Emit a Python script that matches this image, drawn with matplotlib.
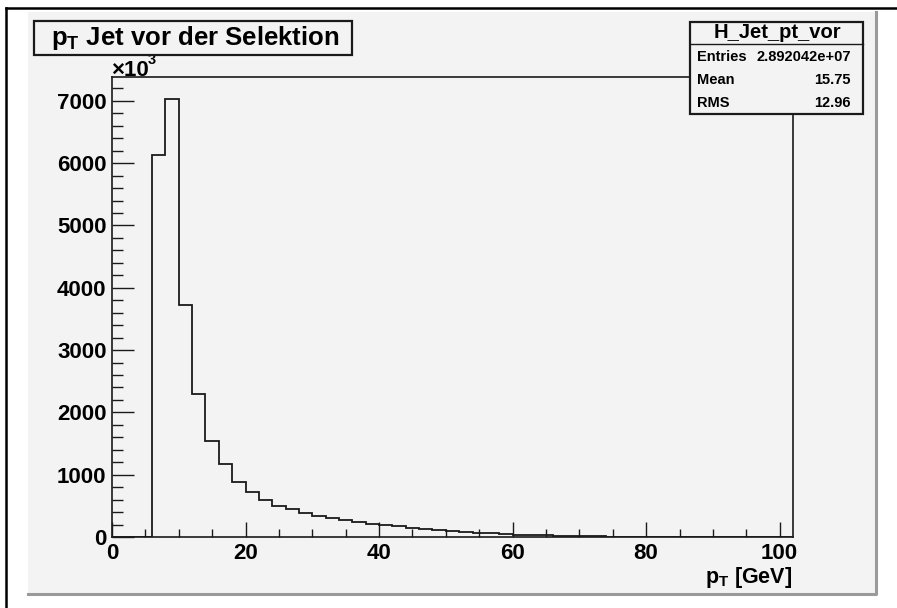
import numpy as np
import matplotlib
matplotlib.use("Agg")
import matplotlib.pyplot as plt
from matplotlib.patches import Rectangle
from matplotlib.lines import Line2D
from matplotlib.ticker import MultipleLocator, FixedLocator

plt.rcParams['font.family'] = ['Liberation Sans', 'DejaVu Sans']
plt.rcParams['font.weight'] = 'bold'
plt.rcParams['mathtext.fontset'] = 'custom'
plt.rcParams['mathtext.rm'] = 'Liberation Sans:bold'
plt.rcParams['mathtext.bf'] = 'Liberation Sans:bold'
plt.rcParams['mathtext.it'] = 'Liberation Sans:bold'

# jet pT histogram, 2 GeV bins from 0 to 102, contents in units of 10^3
bin_edges = np.arange(0, 104, 2)
counts_k = [0, 0, 0, 6133, 7032, 3725, 2291, 1541, 1167, 888,
            717, 594, 503, 445, 385, 342, 300, 268, 241, 214,
            188, 171, 150, 133, 117, 101, 85, 72, 59, 48,
            40, 32, 26, 20, 16, 12, 10, 8, 7, 6,
            5, 4, 4, 0, 0, 0, 0, 0, 0, 0, 0]

hist_name = "H_Jet_pt_vor"
stat_names = ["Entries", "Mean", "RMS"]
stat_values = ["2.892042e+07", "15.75", "12.96"]

W, H = 897, 608
BG = '#f3f3f3'
INK = '#1a1a1a'
LABEL_SIZE = 16


def fx(x):
    return x / W


def fy(y):
    return 1 - y / H


fig = plt.figure(figsize=(W / 100, H / 100), dpi=100, facecolor='white')

# canvas with a bevelled edge
fig.add_artist(Rectangle((fx(28), fy(595)), fx(877) - fx(28), fy(12) - fy(595),
                         transform=fig.transFigure, fc=BG, ec='none', zorder=0))
fig.add_artist(Line2D([fx(28), fx(876), fx(876)], [fy(594), fy(594), fy(12)],
                      transform=fig.transFigure, color='#9a9a9a', lw=2.2, zorder=1))
fig.add_artist(Line2D([fx(6), fx(6)], [0, fy(8)], transform=fig.transFigure,
                      color='black', lw=1.8))
fig.add_artist(Line2D([fx(6), 1], [fy(8), fy(8)], transform=fig.transFigure,
                      color='black', lw=1.8))

ax = fig.add_axes([fx(112), fy(537), fx(793) - fx(112), fy(77) - fy(537)])
ax.set_facecolor(BG)
ax.stairs(counts_k, bin_edges, color=INK, lw=1.3)
ax.set_xlim(0, 102)
ax.set_ylim(0, max(counts_k) * 1.05)

for s in ax.spines.values():
    s.set_color(INK)
    s.set_linewidth(1.2)

ax.xaxis.set_major_locator(FixedLocator([0, 20, 40, 60, 80, 100]))
ax.xaxis.set_minor_locator(MultipleLocator(5))
ax.yaxis.set_major_locator(MultipleLocator(1000))
ax.yaxis.set_minor_locator(MultipleLocator(200))
ax.tick_params(axis='x', which='major', direction='in', length=10.8, width=1.0,
               color=INK, labelsize=LABEL_SIZE, pad=4)
ax.tick_params(axis='x', which='minor', direction='in', length=5.8, width=1.0, color=INK)
ax.tick_params(axis='y', which='major', direction='in', length=15.8, width=1.0,
               color=INK, labelsize=LABEL_SIZE, pad=4)
ax.tick_params(axis='y', which='minor', direction='in', length=7.9, width=1.0, color=INK)
for lab in ax.get_xticklabels() + ax.get_yticklabels():
    lab.set_fontweight('bold')

# exponent marker above the y axis
fig.text(fx(111), fy(76), "\u00d710", fontsize=LABEL_SIZE, fontweight='bold',
         ha='left', va='baseline')
fig.text(fx(148), fy(64), "3", fontsize=10.5, fontweight='bold',
         ha='left', va='baseline')

# axis title
fig.text(fx(792), fy(583), r"$\mathbf{p_{T}}$ [GeV]", fontsize=15.5,
         fontweight='bold', ha='right', va='baseline')

# histogram title box
fig.add_artist(Rectangle((fx(34), fy(55)), fx(352) - fx(34), fy(21) - fy(55),
                         transform=fig.transFigure, fc=BG, ec=INK, lw=1.6, zorder=5))
fig.text(fx(51), fy(45), r"$\mathbf{p_{T}}$ Jet vor der Selektion", fontsize=18.5,
         fontweight='bold', ha='left', va='baseline', zorder=6)

# statistics box
fig.add_artist(Rectangle((fx(690), fy(114)), fx(863) - fx(690), fy(22) - fy(114),
                         transform=fig.transFigure, fc=BG, ec=INK, lw=1.6, zorder=5))
fig.add_artist(Line2D([fx(690), fx(863)], [fy(44), fy(44)], transform=fig.transFigure,
                      color=INK, lw=1.0, zorder=6))
fig.text(fx(777), fy(33), hist_name, fontsize=14.5, fontweight='bold',
         ha='center', va='center', zorder=6)
for i, (name, val) in enumerate(zip(stat_names, stat_values)):
    yy = fy(57 + i * 23)
    fig.text(fx(697), yy, name, fontsize=10.5, fontweight='bold',
             ha='left', va='center', zorder=6)
    fig.text(fx(851), yy, val, fontsize=10.5, fontweight='bold',
             ha='right', va='center', zorder=6)

fig.savefig("out.png", dpi=100, facecolor='white')
